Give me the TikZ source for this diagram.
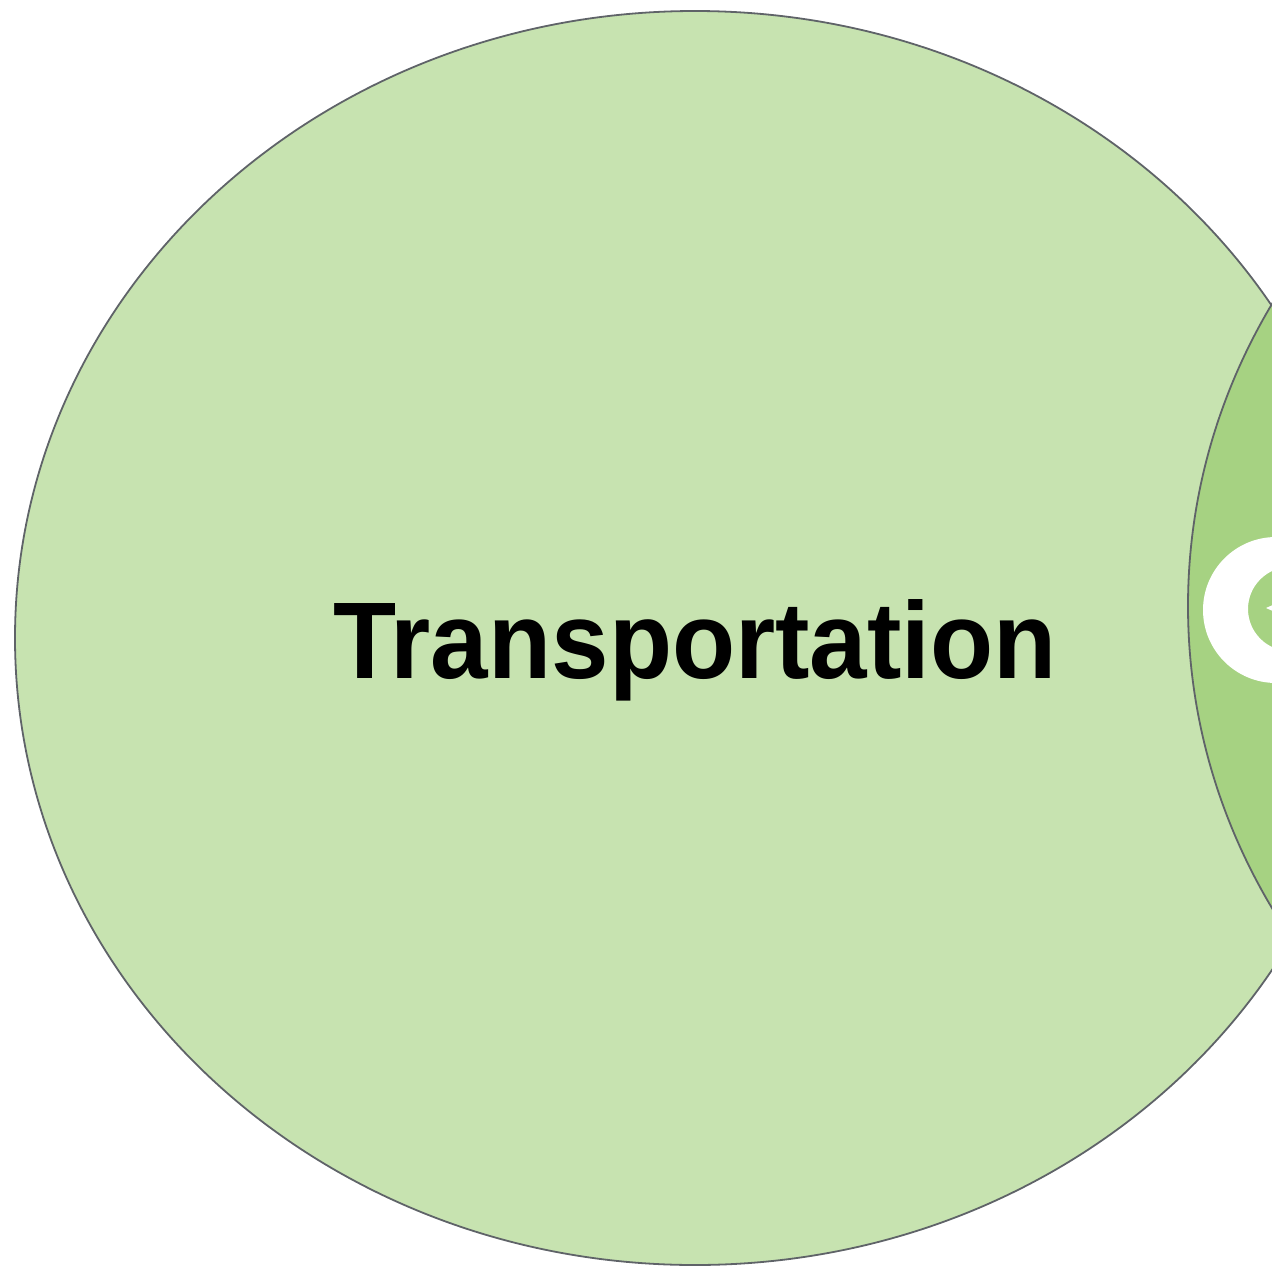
\documentclass[tikz,border=0pt]{standalone}
\usepackage{fontspec}
\setmainfont{Liberation Sans}
\definecolor{lightgreen}{RGB}{199,227,176}
\definecolor{midgreen}{RGB}{166,210,130}
\definecolor{edgegray}{RGB}{95,99,104}
\begin{document}
\begin{tikzpicture}[x=1pt,y=-1pt,
  venn/.style={draw=edgegray,line width=1.8pt},
  label/.style={inner sep=0pt,anchor=base,font=\bfseries\fontsize{109}{120}\selectfont}]
\useasboundingbox (0,0) rectangle (1272,1266);
\begin{scope}
\clip (0,0) rectangle (1272,1266);
\draw[venn,fill=lightgreen] (695,638) ellipse [x radius=680,y radius=627];
\draw[venn,fill=midgreen] (1868,606) ellipse [x radius=680,y radius=627];
\fill[white,even odd rule] (1276,610) circle [radius=73] (1290,609) circle [radius=42];
\fill[white] (1266,608) -- (1275,604) -- (1275,612) -- cycle;
\end{scope}
\node[label] (transport) at (695,678) {\scalebox{0.948}[1]{Transportation}};
\end{tikzpicture}
\end{document}
